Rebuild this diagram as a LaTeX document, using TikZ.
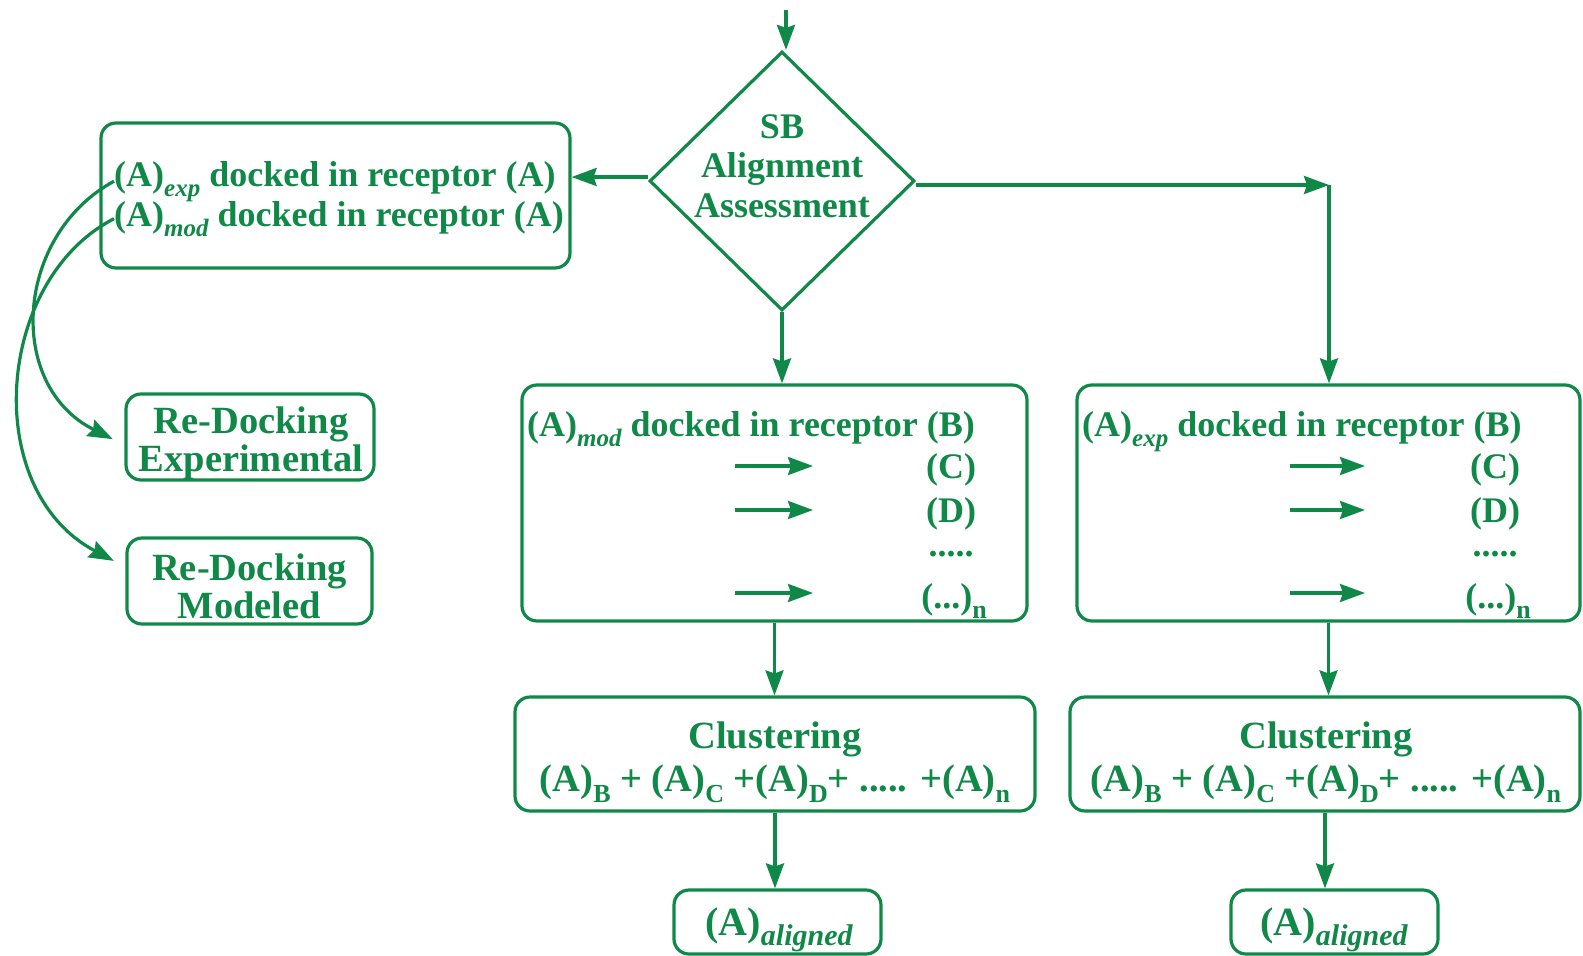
\documentclass[tikz,border=0pt]{standalone}
\usepackage{fontspec}
\setmainfont{Liberation Serif}
\usetikzlibrary{shapes.geometric,arrows.meta,calc}
\definecolor{fg}{RGB}{16,137,72}
\newcommand\sbs[1]{\raisebox{-0.3em}{\fontsize{26}{26}\selectfont #1}}
\newcommand\isbs[1]{\raisebox{-0.28em}{\fontsize{25}{25}\selectfont\itshape #1}}
\newcommand\asbs[1]{\raisebox{-0.25em}{\fontsize{30}{30}\selectfont\itshape #1}}
\begin{document}
\begin{tikzpicture}[x=1pt,y=-1pt,
  every node/.style={text=fg, font=\fontsize{36}{40}\selectfont\bfseries},
  box/.style={draw=fg, line width=3.2pt, rounded corners=15pt, inner sep=0pt},
  dia/.style={draw=fg, line width=3.2pt, diamond, inner sep=0pt},
  arr/.style={draw=fg, line width=3.2pt, -{Stealth[length=25pt,width=18pt,inset=3pt]}},
  txt/.style={inner sep=0pt},
  big/.style={font=\fontsize{38.5}{40}\selectfont\bfseries},
  huge/.style={font=\fontsize{40}{40}\selectfont\bfseries}]
\useasboundingbox (0,0) rectangle (1583,956);

% shapes
\node[dia, minimum width=265pt, minimum height=259pt] (d) at (782,181) {};
\node[box, minimum width=469pt, minimum height=145pt] (b1) at (335.5,195.5) {};
\node[box, minimum width=248pt, minimum height=86pt] (rde) at (250,437) {};
\node[box, minimum width=245pt, minimum height=86pt] (rdm) at (249.5,581) {};
\node[box, minimum width=505pt, minimum height=236pt] (b2) at (774.5,503) {};
\node[box, minimum width=503pt, minimum height=236pt] (b3) at (1328.5,503) {};
\node[box, minimum width=520pt, minimum height=114pt] (c1) at (775,754) {};
\node[box, minimum width=510pt, minimum height=114pt] (c2) at (1325,754) {};
\node[box, minimum width=207pt, minimum height=64pt] (al1) at (777.5,922) {};
\node[box, minimum width=207pt, minimum height=64pt] (al2) at (1334.5,922) {};

% texts
\node[txt, anchor=base] (ds) at (782,138) {SB};
\node[txt, anchor=base] (da) at (782,177.5) {Alignment};
\node[txt, anchor=base] (dm) at (782,217) {Assessment};

\node[txt, anchor=base west] (t1a) at (114,186) {(A)\isbs{exp} docked in receptor (A)};
\node[txt, anchor=base west] (t1b) at (114,226) {(A)\isbs{mod} docked in receptor (A)};

\node[txt, big, anchor=base] (rde1) at (251,433) {Re-Docking};
\node[txt, big, anchor=base] (rde2) at (251,471) {Experimental};
\node[txt, big, anchor=base] (rdm1) at (249.5,580) {Re-Docking};
\node[txt, big, anchor=base] (rdm2) at (249.5,618) {Modeled};

\node[txt, anchor=base west] (t2h) at (527,436) {(A)\isbs{mod} docked in receptor (B)};
\node[txt, anchor=base] (t2c) at (951,478) {(C)};
\node[txt, anchor=base] (t2d) at (951,522) {(D)};
\node[txt, anchor=base] (t2e) at (951,556) {.....};
\node[txt, anchor=base] (t2n) at (954,608) {(...)\sbs{n}};

\node[txt, anchor=base west] (t3h) at (1082,436) {(A)\isbs{exp} docked in receptor (B)};
\node[txt, anchor=base] (t3c) at (1495,478) {(C)};
\node[txt, anchor=base] (t3d) at (1495,522) {(D)};
\node[txt, anchor=base] (t3e) at (1495,556) {.....};
\node[txt, anchor=base] (t3n) at (1498,608) {(...)\sbs{n}};

\node[txt, big, anchor=base] (c1a) at (775,748) {Clustering};
\node[txt, big, anchor=base] (c1b) at (775,791) {(A)\sbs{B} + (A)\sbs{C} +(A)\sbs{D}+ ..... +(A)\sbs{n}};
\node[txt, big, anchor=base] (c2a) at (1326,748) {Clustering};
\node[txt, big, anchor=base] (c2b) at (1326,791) {(A)\sbs{B} + (A)\sbs{C} +(A)\sbs{D}+ ..... +(A)\sbs{n}};

\node[txt, huge, anchor=base] (al1t) at (779,935) {(A)\asbs{aligned}};
\node[txt, huge, anchor=base] (al2t) at (1334,935) {(A)\asbs{aligned}};

% connectors
\coordinate (top) at (786,10);
\draw[arr] (top) -- (top |- d.north);
\draw[arr] ($(d.west)+(0,-4)$) -- ($(d.west -| b1.east)+(0,-4)$);
\coordinate (corner) at (1329,185);
\draw[arr] (d.east |- corner) -- (corner);
\draw[arr] (corner) -- (corner |- b3.north);
\draw[arr] (d.south) -- (d.south |- b2.north);
\draw[arr] (b2.south) -- (b2.south |- c1.north);
\draw[arr] (c1.south) -- (c1.south |- al1.north);
\draw[arr] (b3.south) -- (b3.south |- c2.north);
\draw[arr] (c2.south) -- (c2.south |- al2.north);

\draw[arr, shorten >=13pt] (t1a.west) .. controls (15,235) and (5,385) .. ($(rde.west)+(0,8)$);
\draw[arr, shorten >=13pt] (t1b.west) .. controls (-5,280) and (-20,490) .. ($(rdm.west)+(0,-14)$);

% inner arrows
\foreach \y [count=\i] in {466,510,593}{
  \coordinate (p\i s) at (735,\y); \coordinate (p\i e) at (813,\y);
  \draw[arr] (p\i s) -- (p\i e);
  \coordinate (q\i s) at (1290,\y); \coordinate (q\i e) at (1365,\y);
  \draw[arr] (q\i s) -- (q\i e);
}
\end{tikzpicture}
\end{document}
